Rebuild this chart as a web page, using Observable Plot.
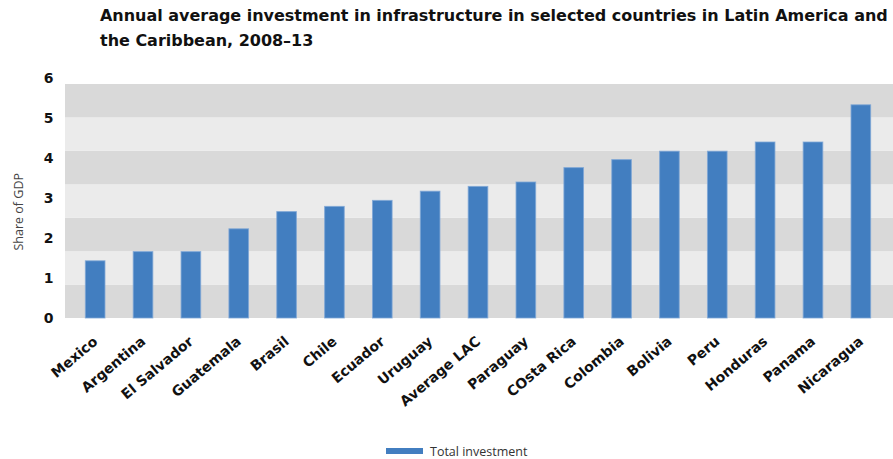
<!DOCTYPE html>
<html>
<head>
<meta charset="utf-8">
<script src="https://cdn.jsdelivr.net/npm/d3@7"></script>
<script src="https://cdn.jsdelivr.net/npm/@observablehq/plot@0.6"></script>
<style>
  html, body { margin: 0; padding: 0; background: #fff; }
  #wrap { position: relative; width: 893px; height: 459px; overflow: hidden; }
  #title {
    position: absolute; left: 100px; top: 3px; width: 800px;
    font-family: "DejaVu Sans", sans-serif; font-weight: 700; font-size: 16px;
    line-height: 25px; color: #111; letter-spacing: -0.02px; white-space: nowrap;
  }
  #chart { position: absolute; left: 0; top: 60px; }
  #legend {
    position: absolute; left: 386px; top: 443px; height: 16px;
    display: flex; align-items: center;
    font-family: "Open Sans", sans-serif; font-size: 12.5px; color: #333;
  }
  #legend .sw { display: inline-block; width: 37px; height: 6px; background: #427ec0; margin-right: 7px; }
</style>
</head>
<body>
<div id="wrap">
  <div id="title">Annual average investment in infrastructure in selected countries in Latin America and<br>the Caribbean, 2008–13</div>
  <div id="chart"></div>
  <div id="legend"><span class="sw"></span><span>Total investment</span></div>
</div>
<script>
// Annual average investment in infrastructure, share of GDP, 2008–13
const countries = ["Mexico", "Argentina", "El Salvador", "Guatemala", "Brasil", "Chile", "Ecuador", "Uruguay", "Average LAC", "Paraguay", "COsta Rica", "Colombia", "Bolivia", "Peru", "Honduras", "Panama", "Nicaragua"];
const investment = [1.43, 1.66, 1.66, 2.23, 2.66, 2.79, 2.94, 3.17, 3.29, 3.40, 3.76, 3.96, 4.17, 4.17, 4.40, 4.40, 5.33];
const yTicks = [0, 1, 2, 3, 4, 5, 6];
const seriesName = "Total investment";

const data = countries.map((c, i) => ({country: c, value: investment[i], series: seriesName}));

// alternating background stripes behind the bars
const stripeCount = 7;
const stripeTop = 5.85;
const stripes = d3.range(stripeCount).map(i => ({
  y1: i * stripeTop / stripeCount,
  y2: (i + 1) * stripeTop / stripeCount,
  dark: i % 2 === 0
}));

const chart = Plot.plot({
  width: 893,
  height: 380,
  marginLeft: 65,
  marginRight: 0,
  marginTop: 18,
  marginBottom: 122,
  style: {background: "transparent"},
  x: {domain: countries, round: false, paddingInner: 0.59, paddingOuter: 0.3, insetLeft: 6, insetRight: 8, label: null},
  y: {domain: [0, 6], label: null},
  marks: [
    Plot.rect(stripes, {y1: "y1", y2: "y2", fill: d => d.dark ? "#d9d9d9" : "#ebebeb"}),
    Plot.barY(data, {x: "country", y: "value", fill: "#427ec0", stroke: "#7ea6d6", strokeWidth: 1, strokeOpacity: 0.8}),
    Plot.axisY(yTicks, {
      tickSize: 0, tickPadding: 12, label: null,
      fontSize: 14, fontWeight: 700, fontFamily: "DejaVu Sans", fill: "#111"
    }),
    Plot.text(["Share of GDP"], {
      frameAnchor: "left", dx: -47, dy: 52, rotate: -90,
      fontSize: 12.5, fontFamily: "Open Sans", fill: "#444"
    }),
    Plot.axisX({
      tickSize: 0, tickPadding: 21, tickRotate: -40, label: null,
      fontSize: 14, fontWeight: 700, fontFamily: "DejaVu Sans", fill: "#111"
    })
  ]
});

document.getElementById("chart").appendChild(chart);
</script>
</body>
</html>
